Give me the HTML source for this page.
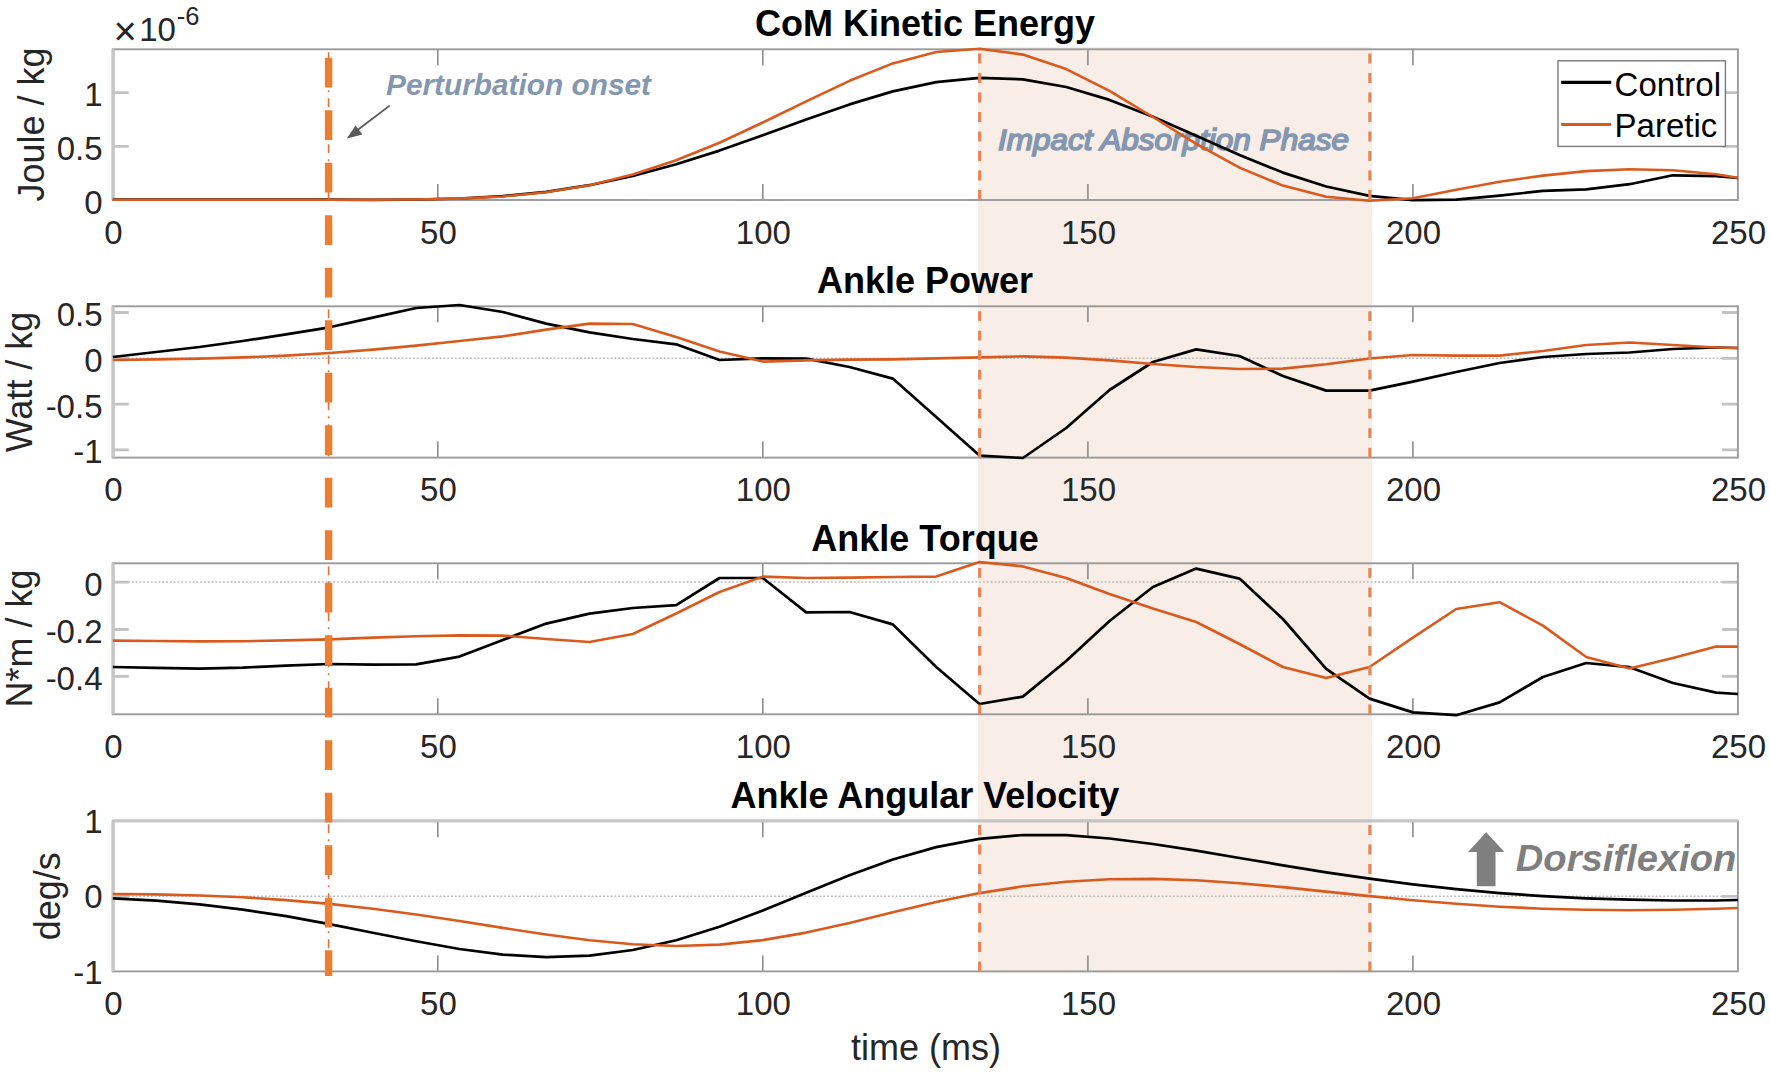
<!DOCTYPE html>
<html lang="en">
<head>
<meta charset="utf-8">
<title>Ankle kinetics after perturbation</title>
<style>
html,body{margin:0;padding:0;background:#fff;}
body{width:1770px;height:1076px;overflow:hidden;font-family:'Liberation Sans',Arial,sans-serif;}
svg{display:block;}
</style>
</head>
<body>
<svg width="1770" height="1076" viewBox="0 0 1770 1076" font-family="'Liberation Sans', Arial, sans-serif">
<rect x="0" y="0" width="1770" height="1076" fill="#ffffff"/>
<rect x="978.0" y="47.0" width="393.9" height="925.5" fill="#F8EDE7"/>
<path d="M437.8 200.0V184.0M437.8 49.3V65.3M762.8 200.0V184.0M762.8 49.3V65.3M1087.9 200.0V184.0M1087.9 49.3V65.3M1412.9 200.0V184.0M1412.9 49.3V65.3" stroke="#8e8e8e" stroke-width="1.6" fill="none"/>
<path d="M112.8 146.4H128.8M1737.9 146.4H1721.9M112.8 92.6H128.8M1737.9 92.6H1721.9" stroke="#c2c2c2" stroke-width="2.8" fill="none"/>
<line x1="112.8" y1="358.3" x2="1737.9" y2="358.3" stroke="#bcbcbc" stroke-width="1.5" stroke-dasharray="1.9 1.9"/>
<path d="M437.8 457.6V441.6M437.8 306.3V322.3M762.8 457.6V441.6M762.8 306.3V322.3M1087.9 457.6V441.6M1087.9 306.3V322.3M1412.9 457.6V441.6M1412.9 306.3V322.3" stroke="#8e8e8e" stroke-width="1.6" fill="none"/>
<path d="M112.8 312.5H128.8M1737.9 312.5H1721.9M112.8 358.3H128.8M1737.9 358.3H1721.9M112.8 404.1H128.8M1737.9 404.1H1721.9M112.8 449.9H128.8M1737.9 449.9H1721.9" stroke="#c2c2c2" stroke-width="2.8" fill="none"/>
<line x1="112.8" y1="582.1" x2="1737.9" y2="582.1" stroke="#bcbcbc" stroke-width="1.5" stroke-dasharray="1.9 1.9"/>
<path d="M437.8 714.3V698.3M437.8 563.3V579.3M762.8 714.3V698.3M762.8 563.3V579.3M1087.9 714.3V698.3M1087.9 563.3V579.3M1412.9 714.3V698.3M1412.9 563.3V579.3" stroke="#8e8e8e" stroke-width="1.6" fill="none"/>
<path d="M112.8 582.1H128.8M1737.9 582.1H1721.9M112.8 629.5H128.8M1737.9 629.5H1721.9M112.8 676.4H128.8M1737.9 676.4H1721.9" stroke="#c2c2c2" stroke-width="2.8" fill="none"/>
<line x1="112.8" y1="896.3" x2="1737.9" y2="896.3" stroke="#bcbcbc" stroke-width="1.5" stroke-dasharray="1.9 1.9"/>
<path d="M437.8 971.4V955.4M437.8 821.2V837.2M762.8 971.4V955.4M762.8 821.2V837.2M1087.9 971.4V955.4M1087.9 821.2V837.2M1412.9 971.4V955.4M1412.9 821.2V837.2" stroke="#8e8e8e" stroke-width="1.6" fill="none"/>
<path d="M112.8 896.3H128.8M1737.9 896.3H1721.9" stroke="#c2c2c2" stroke-width="2.8" fill="none"/>
<rect x="112.8" y="49.3" width="1625.1" height="150.7" fill="none" stroke="#9a9a9a" stroke-width="1.9"/>
<rect x="112.8" y="306.3" width="1625.1" height="151.3" fill="none" stroke="#9a9a9a" stroke-width="1.9"/>
<rect x="112.8" y="563.3" width="1625.1" height="151.0" fill="none" stroke="#9a9a9a" stroke-width="1.9"/>
<rect x="112.8" y="821.2" width="1625.1" height="150.2" fill="none" stroke="#9a9a9a" stroke-width="1.9"/>
<line x1="113.1" y1="49.3" x2="113.1" y2="200.0" stroke="#c6c6c6" stroke-width="3.4"/>
<line x1="113.1" y1="306.3" x2="113.1" y2="457.6" stroke="#c6c6c6" stroke-width="3.4"/>
<line x1="113.1" y1="563.3" x2="113.1" y2="714.3" stroke="#c6c6c6" stroke-width="3.4"/>
<line x1="113.1" y1="821.2" x2="113.1" y2="971.4" stroke="#c6c6c6" stroke-width="3.4"/>
<line x1="112.8" y1="820.8" x2="1737.9" y2="820.8" stroke="#c4c4c4" stroke-width="3"/>
<text x="998" y="149.6" font-size="29.5" font-style="italic" fill="#8497B0" stroke="#8497B0" stroke-width="1.6" textLength="351" lengthAdjust="spacingAndGlyphs">Impact Absorption Phase</text>
<polyline points="112.8,199.7 156.1,199.7 199.5,199.7 242.8,199.7 286.1,199.7 329.5,199.7 372.8,199.8 416.2,199.5 459.5,198.5 502.8,196.1 546.2,191.9 589.5,185.2 632.8,176.0 676.2,164.3 719.5,150.6 762.8,135.2 806.2,119.5 849.5,104.4 892.8,91.4 936.2,82.1 979.5,77.8 1022.9,79.4 1066.2,87.0 1109.5,99.9 1152.9,116.7 1196.2,135.7 1239.5,155.1 1282.9,172.6 1326.2,186.5 1369.5,195.9 1412.9,200.2 1456.2,199.7 1499.6,195.6 1542.9,190.9 1586.2,189.3 1629.6,184.2 1672.9,175.3 1716.2,176.1 1737.9,178.0" fill="none" stroke="#000000" stroke-width="2.7" stroke-linejoin="round"/>
<polyline points="112.8,199.7 156.1,199.7 199.5,199.7 242.8,199.7 286.1,199.7 329.5,199.7 372.8,199.8 416.2,199.5 459.5,198.6 502.8,196.5 546.2,192.2 589.5,185.2 632.8,174.6 676.2,160.3 719.5,142.7 762.8,122.5 806.2,101.3 849.5,80.8 892.8,63.4 936.2,52.0 979.5,48.7 1022.9,54.6 1066.2,69.1 1109.5,90.9 1152.9,117.0 1196.2,143.9 1239.5,167.6 1282.9,185.6 1326.2,196.7 1369.5,200.7 1412.9,198.3 1456.2,189.8 1499.6,181.8 1542.9,175.6 1586.2,171.1 1629.6,169.3 1672.9,170.3 1716.2,174.2 1737.9,177.8" fill="none" stroke="#DA5A1E" stroke-width="2.6" stroke-linejoin="round"/>
<polyline points="112.8,357.0 156.1,352.0 199.5,347.0 242.8,341.0 286.1,334.4 329.5,327.3 372.8,317.6 416.2,308.0 459.5,305.0 502.8,312.0 546.2,323.6 589.5,332.4 632.8,339.0 676.2,344.3 719.5,360.0 762.8,358.4 806.2,358.6 849.5,367.0 892.8,378.6 936.2,417.0 979.5,455.6 1022.9,458.0 1066.2,428.0 1109.5,390.0 1152.9,362.0 1196.2,349.4 1239.5,356.0 1282.9,376.0 1326.2,390.6 1369.5,390.6 1412.9,381.6 1456.2,372.0 1499.6,363.0 1542.9,357.0 1586.2,354.0 1629.6,352.5 1672.9,349.0 1716.2,347.5 1737.9,348.0" fill="none" stroke="#000000" stroke-width="2.7" stroke-linejoin="round"/>
<polyline points="112.8,360.0 156.1,359.4 199.5,358.6 242.8,357.4 286.1,355.6 329.5,353.0 372.8,349.6 416.2,345.6 459.5,341.0 502.8,336.4 546.2,329.6 589.5,323.6 632.8,324.0 676.2,337.0 719.5,351.6 762.8,361.6 806.2,360.4 849.5,359.6 892.8,359.4 936.2,358.4 979.5,357.4 1022.9,356.4 1066.2,357.6 1109.5,360.4 1152.9,364.0 1196.2,367.0 1239.5,369.0 1282.9,368.6 1326.2,364.2 1369.5,358.5 1412.9,355.0 1456.2,355.6 1499.6,355.6 1542.9,351.0 1586.2,345.0 1629.6,342.5 1672.9,345.0 1716.2,347.5 1737.9,348.0" fill="none" stroke="#DA5A1E" stroke-width="2.6" stroke-linejoin="round"/>
<polyline points="112.8,667.0 156.1,667.8 199.5,668.6 242.8,667.6 286.1,665.6 329.5,664.0 372.8,664.6 416.2,664.4 459.5,656.6 502.8,640.0 546.2,623.6 589.5,613.6 632.8,608.0 676.2,605.2 719.5,578.0 762.8,578.0 806.2,612.4 849.5,612.0 892.8,624.4 936.2,667.0 979.5,704.0 1022.9,696.6 1066.2,661.0 1109.5,621.0 1152.9,587.0 1196.2,568.6 1239.5,578.6 1282.9,619.0 1326.2,668.8 1369.5,698.6 1412.9,712.4 1456.2,715.2 1499.6,702.4 1542.9,677.0 1586.2,663.0 1629.6,667.2 1672.9,683.0 1716.2,692.6 1737.9,694.0" fill="none" stroke="#000000" stroke-width="2.7" stroke-linejoin="round"/>
<polyline points="112.8,640.6 156.1,641.0 199.5,641.4 242.8,641.2 286.1,640.4 329.5,639.4 372.8,637.6 416.2,636.2 459.5,635.4 502.8,635.6 546.2,639.0 589.5,642.0 632.8,634.0 676.2,613.5 719.5,592.0 762.8,576.6 806.2,578.0 849.5,577.6 892.8,577.0 936.2,576.6 979.5,562.0 1022.9,566.4 1066.2,578.0 1109.5,594.0 1152.9,608.6 1196.2,622.0 1239.5,644.0 1282.9,667.0 1326.2,678.0 1369.5,667.0 1412.9,637.6 1456.2,609.0 1499.6,602.2 1542.9,625.6 1586.2,657.0 1629.6,668.6 1672.9,658.0 1716.2,646.6 1737.9,646.6" fill="none" stroke="#DA5A1E" stroke-width="2.6" stroke-linejoin="round"/>
<polyline points="112.8,898.4 156.1,900.7 199.5,904.4 242.8,909.6 286.1,916.2 329.5,924.1 372.8,932.7 416.2,941.3 459.5,949.0 502.8,954.6 546.2,957.1 589.5,955.7 632.8,950.0 676.2,940.2 719.5,926.7 762.8,910.5 806.2,892.7 849.5,875.2 892.8,859.5 936.2,847.1 979.5,838.9 1022.9,835.0 1066.2,835.2 1109.5,838.5 1152.9,844.0 1196.2,850.7 1239.5,858.0 1282.9,865.3 1326.2,872.3 1369.5,878.7 1412.9,884.4 1456.2,889.2 1499.6,893.1 1542.9,896.1 1586.2,898.3 1629.6,899.7 1672.9,900.5 1716.2,900.5 1737.9,900.0" fill="none" stroke="#000000" stroke-width="2.7" stroke-linejoin="round"/>
<polyline points="112.8,894.0 156.1,894.4 199.5,895.5 242.8,897.3 286.1,900.1 329.5,903.9 372.8,908.7 416.2,914.5 459.5,921.0 502.8,927.9 546.2,934.5 589.5,940.3 632.8,944.3 676.2,946.0 719.5,944.6 762.8,940.1 806.2,932.6 849.5,922.9 892.8,912.3 936.2,902.0 979.5,893.1 1022.9,886.3 1066.2,881.8 1109.5,879.3 1152.9,878.9 1196.2,880.3 1239.5,883.2 1282.9,887.1 1326.2,891.6 1369.5,896.1 1412.9,900.2 1456.2,903.8 1499.6,906.7 1542.9,908.7 1586.2,909.8 1629.6,910.2 1672.9,909.8 1716.2,908.7 1737.9,908.0" fill="none" stroke="#DA5A1E" stroke-width="2.6" stroke-linejoin="round"/>
<line x1="979.7" y1="200.0" x2="979.7" y2="50.8" stroke="#E58658" stroke-width="3.2" stroke-dasharray="9.9 9.6"/>
<line x1="979.7" y1="457.6" x2="979.7" y2="307.8" stroke="#E58658" stroke-width="3.2" stroke-dasharray="9.9 9.6"/>
<line x1="979.7" y1="714.3" x2="979.7" y2="564.8" stroke="#E58658" stroke-width="3.2" stroke-dasharray="9.9 9.6"/>
<line x1="979.7" y1="971.4" x2="979.7" y2="822.7" stroke="#E58658" stroke-width="3.2" stroke-dasharray="9.9 9.6"/>
<line x1="1369.9" y1="200.0" x2="1369.9" y2="50.8" stroke="#E58658" stroke-width="3.2" stroke-dasharray="9.9 9.6"/>
<line x1="1369.9" y1="457.6" x2="1369.9" y2="307.8" stroke="#E58658" stroke-width="3.2" stroke-dasharray="9.9 9.6"/>
<line x1="1369.9" y1="714.3" x2="1369.9" y2="564.8" stroke="#E58658" stroke-width="3.2" stroke-dasharray="9.9 9.6"/>
<line x1="1369.9" y1="971.4" x2="1369.9" y2="822.7" stroke="#E58658" stroke-width="3.2" stroke-dasharray="9.9 9.6"/>
<line x1="328.6" y1="52.3" x2="328.6" y2="200.0" stroke="#E2703A" stroke-width="1.6" stroke-dasharray="9 6 2 6"/>
<line x1="328.6" y1="309.3" x2="328.6" y2="457.6" stroke="#E2703A" stroke-width="1.6" stroke-dasharray="9 6 2 6"/>
<line x1="328.6" y1="566.3" x2="328.6" y2="714.3" stroke="#E2703A" stroke-width="1.6" stroke-dasharray="9 6 2 6"/>
<line x1="328.6" y1="824.2" x2="328.6" y2="971.4" stroke="#E2703A" stroke-width="1.6" stroke-dasharray="9 6 2 6"/>
<line x1="328.6" y1="57.8" x2="328.6" y2="976" stroke="#ED7D31" stroke-width="7.4" stroke-dasharray="29.8 22.7"/>
<text x="113.4" y="243.6" font-size="33" fill="#262626" text-anchor="middle">0</text>
<text x="438.4" y="243.6" font-size="33" fill="#262626" text-anchor="middle">50</text>
<text x="763.4" y="243.6" font-size="33" fill="#262626" text-anchor="middle">100</text>
<text x="1088.5" y="243.6" font-size="33" fill="#262626" text-anchor="middle">150</text>
<text x="1413.5" y="243.6" font-size="33" fill="#262626" text-anchor="middle">200</text>
<text x="1738.5" y="243.6" font-size="33" fill="#262626" text-anchor="middle">250</text>
<text x="102.5" y="213.5" font-size="33" fill="#262626" text-anchor="end">0</text>
<text x="102.5" y="159.9" font-size="33" fill="#262626" text-anchor="end">0.5</text>
<text x="102.5" y="106.1" font-size="33" fill="#262626" text-anchor="end">1</text>
<text x="113.4" y="501.2" font-size="33" fill="#262626" text-anchor="middle">0</text>
<text x="438.4" y="501.2" font-size="33" fill="#262626" text-anchor="middle">50</text>
<text x="763.4" y="501.2" font-size="33" fill="#262626" text-anchor="middle">100</text>
<text x="1088.5" y="501.2" font-size="33" fill="#262626" text-anchor="middle">150</text>
<text x="1413.5" y="501.2" font-size="33" fill="#262626" text-anchor="middle">200</text>
<text x="1738.5" y="501.2" font-size="33" fill="#262626" text-anchor="middle">250</text>
<text x="102.5" y="326.0" font-size="33" fill="#262626" text-anchor="end">0.5</text>
<text x="102.5" y="371.8" font-size="33" fill="#262626" text-anchor="end">0</text>
<text x="102.5" y="417.6" font-size="33" fill="#262626" text-anchor="end">-0.5</text>
<text x="102.5" y="463.4" font-size="33" fill="#262626" text-anchor="end">-1</text>
<text x="113.4" y="757.9" font-size="33" fill="#262626" text-anchor="middle">0</text>
<text x="438.4" y="757.9" font-size="33" fill="#262626" text-anchor="middle">50</text>
<text x="763.4" y="757.9" font-size="33" fill="#262626" text-anchor="middle">100</text>
<text x="1088.5" y="757.9" font-size="33" fill="#262626" text-anchor="middle">150</text>
<text x="1413.5" y="757.9" font-size="33" fill="#262626" text-anchor="middle">200</text>
<text x="1738.5" y="757.9" font-size="33" fill="#262626" text-anchor="middle">250</text>
<text x="102.5" y="595.6" font-size="33" fill="#262626" text-anchor="end">0</text>
<text x="102.5" y="643.0" font-size="33" fill="#262626" text-anchor="end">-0.2</text>
<text x="102.5" y="689.9" font-size="33" fill="#262626" text-anchor="end">-0.4</text>
<text x="113.4" y="1015.0" font-size="33" fill="#262626" text-anchor="middle">0</text>
<text x="438.4" y="1015.0" font-size="33" fill="#262626" text-anchor="middle">50</text>
<text x="763.4" y="1015.0" font-size="33" fill="#262626" text-anchor="middle">100</text>
<text x="1088.5" y="1015.0" font-size="33" fill="#262626" text-anchor="middle">150</text>
<text x="1413.5" y="1015.0" font-size="33" fill="#262626" text-anchor="middle">200</text>
<text x="1738.5" y="1015.0" font-size="33" fill="#262626" text-anchor="middle">250</text>
<text x="102.5" y="832.5" font-size="33" fill="#262626" text-anchor="end">1</text>
<text x="102.5" y="907.6" font-size="33" fill="#262626" text-anchor="end">0</text>
<text x="102.5" y="983.8" font-size="33" fill="#262626" text-anchor="end">-1</text>
<text x="113.4" y="45.2" font-size="40" fill="#262626">×</text>
<text x="139.2" y="40.8" font-size="33" fill="#262626">10<tspan font-size="25.5" dx="0.8" dy="-15.7">-6</tspan></text>
<text x="925" y="36.0" font-size="36" font-weight="bold" fill="#000" text-anchor="middle">CoM Kinetic Energy</text>
<text x="925" y="293.0" font-size="36" font-weight="bold" fill="#000" text-anchor="middle">Ankle Power</text>
<text x="925" y="550.6" font-size="36" font-weight="bold" fill="#000" text-anchor="middle">Ankle Torque</text>
<text x="925" y="808.0" font-size="36" font-weight="bold" fill="#000" text-anchor="middle">Ankle Angular Velocity</text>
<text transform="translate(44.4 124.5) rotate(-90)" font-size="36" fill="#262626" text-anchor="middle">Joule / kg</text>
<text transform="translate(32.4 382.0) rotate(-90)" font-size="36" fill="#262626" text-anchor="middle">Watt / kg</text>
<text transform="translate(32.4 638.5) rotate(-90)" font-size="36" fill="#262626" text-anchor="middle">N*m / kg</text>
<text transform="translate(60.0 896.2) rotate(-90)" font-size="36" fill="#262626" text-anchor="middle">deg/s</text>
<text x="926" y="1060.3" font-size="36" fill="#262626" text-anchor="middle">time (ms)</text>
<rect x="1558" y="60.8" width="167.4" height="85.6" fill="#fff" stroke="#7a7a7a" stroke-width="1.4"/>
<line x1="1561.2" y1="82.3" x2="1611.2" y2="82.3" stroke="#000" stroke-width="3.3"/>
<line x1="1561.2" y1="124.4" x2="1611.2" y2="124.4" stroke="#DA5A1E" stroke-width="3"/>
<text x="1614.6" y="95.6" font-size="33" fill="#000">Control</text>
<text x="1614.6" y="136.8" font-size="33" fill="#000">Paretic</text>
<text x="386" y="95.2" font-size="29.5" font-style="italic" font-weight="bold" fill="#8497B0" textLength="265" lengthAdjust="spacingAndGlyphs">Perturbation onset</text>
<path d="M389.6 105.6L354 132.8" stroke="#585858" stroke-width="1.8" fill="none"/>
<path d="M346.8 138.6L355.6 125.6L362.4 134.6Z" fill="#5a5a5a"/>
<path d="M1486.2 832.3L1504.4 852H1495.5V886.3H1476.8V852H1468Z" fill="#7f7f7f"/>
<text x="1515.8" y="871.1" font-size="37.8" font-style="italic" font-weight="bold" fill="#7f7f7f" textLength="220.5" lengthAdjust="spacingAndGlyphs">Dorsiflexion</text>
</svg>
</body>
</html>
